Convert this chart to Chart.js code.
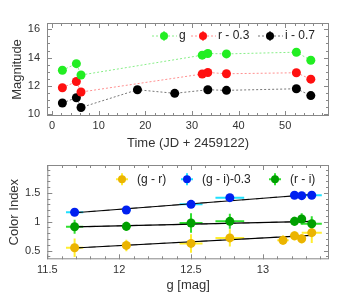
<!DOCTYPE html>
<html>
<head>
<meta charset="utf-8">
<script src="https://cdn.jsdelivr.net/npm/chart.js@4/dist/chart.umd.min.js"></script>
<style>
body { margin: 0; background: #fff; }
.panel { position: relative; width: 363px; height: 151px; }
</style>
</head>
<body>
<div class="panel"><canvas id="curvaChart"></canvas></div>
<div class="panel"><canvas id="colorChart"></canvas></div>
<script>
// datos curva de luz
const diasGR = [2.2, 5.2, 6.2, 32.2, 33.4, 37.4, 52.4, 55.5];
const magG = [13.11, 13.57, 12.77, 14.17, 14.29, 14.26, 14.38, 13.81];
const magR = [11.87, 12.31, 11.57, 12.84, 12.95, 12.86, 12.93, 12.48];
const diasI = [2.2, 5.2, 6.2, 18.3, 26.3, 33.4, 37.4, 52.4, 55.5];
const magI = [10.80, 11.17, 10.48, 11.73, 11.48, 11.73, 11.69, 11.80, 11.32];
const ticksTiempo = [0, 10, 20, 30, 40, 50];
const ticksMag = [10, 12, 14, 16];

// datos indices de color
const gGR = [11.69, 12.05, 12.50, 12.77, 13.14, 13.22, 13.27, 13.34];
const colGR = [0.55, 0.59, 0.625, 0.72, 0.68, 0.757, 0.705, 0.81];
const errGRx = [0.06, 0.03, 0.08, 0.10, 0.04, 0.03, 0.03, 0.07];
const errGRy = [0.16, 0.10, 0.16, 0.15, 0.08, 0.08, 0.08, 0.18];
const gGI = [11.69, 12.05, 12.50, 12.77, 13.22, 13.27, 13.34];
const colGI = [1.163, 1.203, 1.30, 1.416, 1.457, 1.45, 1.457];
const errGIx = [0.06, 0.03, 0.08, 0.10, 0.03, 0.03, 0.07];
const errGIy = [0.04, 0.03, 0.04, 0.06, 0.03, 0.03, 0.04];
const colRI = [0.913, 0.92, 0.977, 1.006, 1.006, 1.047, 0.965];
const errRIx = [0.06, 0.03, 0.08, 0.10, 0.03, 0.03, 0.07];
const errRIy = [0.12, 0.08, 0.17, 0.13, 0.08, 0.10, 0.13];
const ajusteX = [11.69, 13.34];
const ajusteGR = [0.545, 0.765];
const ajusteGI = [1.155, 1.47];
const ajusteRI = [0.91, 1.005];
const ticksG = [11.5, 12, 12.5, 13];
const ticksColor = [0.5, 1, 1.5];

const pares = (xs, ys) => xs.map((x, i) => ({ x: x, y: ys[i] }));

Chart.defaults.font.family = "'Liberation Sans', Arial, sans-serif";
Chart.defaults.color = '#333';

// marco gris con marcas hacia dentro
const marcoPlugin = {
    id: 'marco',
    beforeDatasetsDraw(chart, args, o) {
        const { ctx, chartArea: a, scales: { x, y } } = chart;
        ctx.save();
        ctx.strokeStyle = '#888';
        ctx.lineWidth = 1;
        ctx.strokeRect(a.left + 0.5, a.top + 0.5, a.right - a.left - 1, a.bottom - a.top - 1);
        const marcas = (sc, paso, mayor, horiz) => {
            const ini = Math.ceil(sc.min / paso - 1e-6);
            for (let k = ini; k * paso <= sc.max + 1e-9; k++) {
                const v = k * paso;
                const esMayor = Math.abs(v / mayor - Math.round(v / mayor)) < 1e-6;
                const l = esMayor ? 5 : 3;
                const p = Math.round(sc.getPixelForValue(v)) + 0.5;
                ctx.beginPath();
                if (horiz) {
                    ctx.moveTo(p, a.bottom); ctx.lineTo(p, a.bottom - l);
                    ctx.moveTo(p, a.top); ctx.lineTo(p, a.top + l);
                } else {
                    ctx.moveTo(a.left, p); ctx.lineTo(a.left + l, p);
                    ctx.moveTo(a.right, p); ctx.lineTo(a.right - l, p);
                }
                ctx.stroke();
            }
        };
        marcas(x, o.xMenor, o.xMayor, true);
        marcas(y, o.yMenor, o.yMayor, false);
        ctx.restore();
    }
};

// barras de error
const errorPlugin = {
    id: 'errores',
    beforeDatasetsDraw(chart) {
        const { ctx, scales: { x, y } } = chart;
        ctx.save();
        chart.data.datasets.forEach(ds => {
            if (!ds.errX) return;
            ctx.strokeStyle = ds.errColor;
            ctx.lineWidth = 2;
            ds.data.forEach((p, i) => {
                const px = x.getPixelForValue(p.x), py = y.getPixelForValue(p.y);
                ctx.beginPath();
                ctx.moveTo(x.getPixelForValue(p.x - ds.errX[i]), py);
                ctx.lineTo(x.getPixelForValue(p.x + ds.errX[i]), py);
                ctx.moveTo(px, y.getPixelForValue(p.y - ds.errY[i]));
                ctx.lineTo(px, y.getPixelForValue(p.y + ds.errY[i]));
                ctx.stroke();
            });
        });
        ctx.restore();
    }
};

// leyenda propia
const leyendaPlugin = {
    id: 'leyenda',
    afterDatasetsDraw(chart, args, o) {
        const { ctx } = chart;
        ctx.save();
        ctx.font = "12px 'Liberation Sans', Arial, sans-serif";
        ctx.textBaseline = 'middle';
        o.items.forEach(it => {
            const ds = chart.data.datasets[it.ds];
            const yc = o.y;
            if (o.linea) {
                ctx.strokeStyle = ds.borderColor;
                ctx.lineWidth = 1;
                ctx.setLineDash([2, 2]);
                ctx.beginPath();
                ctx.moveTo(it.x - 12, yc); ctx.lineTo(it.x + 13, yc);
                ctx.stroke();
                ctx.setLineDash([]);
                ctx.strokeStyle = ds.pointBackgroundColor;
                ctx.beginPath();
                ctx.moveTo(it.x, yc - 5); ctx.lineTo(it.x, yc + 5);
                ctx.stroke();
            } else {
                ctx.strokeStyle = ds.errColor;
                ctx.lineWidth = 2;
                ctx.beginPath();
                ctx.moveTo(it.x - 6, yc); ctx.lineTo(it.x + 6, yc);
                ctx.moveTo(it.x, yc - 6); ctx.lineTo(it.x, yc + 6);
                ctx.stroke();
            }
            ctx.fillStyle = ds.pointBackgroundColor;
            ctx.beginPath();
            ctx.arc(it.x, yc, 4, 0, Math.PI * 2);
            ctx.fill();
            ctx.fillStyle = '#222';
            ctx.fillText(ds.label, it.x + 15, yc);
        });
        ctx.restore();
    }
};

const escala = (min, max, ticks, titulo, pad, ancho, tituloPad) => ({
    type: 'linear', min: min, max: max,
    grid: { display: false, drawTicks: false },
    border: { display: false },
    afterBuildTicks: s => { s.ticks = ticks.map(v => ({ value: v })); },
    afterFit: s => { if (s.isHorizontal()) s.height = ancho; else s.width = ancho; },
    ticks: { font: { size: 11 }, color: '#333', padding: pad, callback: v => String(v), maxRotation: 0 },
    title: { display: true, text: titulo, font: { size: 13 }, color: '#333', padding: tituloPad }
});

const serieCurva = (label, xs, ys, color, linea) => ({
    label: label,
    data: pares(xs, ys),
    showLine: true,
    borderColor: linea,
    borderWidth: 1,
    borderDash: [2, 2],
    pointRadius: 4.5,
    pointBackgroundColor: color,
    pointBorderWidth: 0
});

new Chart(document.getElementById('curvaChart'), {
    type: 'scatter',
    data: {
        datasets: [
            serieCurva('g', diasGR, magG, '#22ee22', '#88ee88'),
            serieCurva('r - 0.3', diasGR, magR, '#ff1010', '#ff9090'),
            serieCurva('i - 0.7', diasI, magI, '#000000', '#777777')
        ]
    },
    options: {
        responsive: true, maintainAspectRatio: false, animation: false,
        layout: { padding: { top: 23, right: 34, left: 0, bottom: 0 } },
        plugins: {
            legend: { display: false }, tooltip: { enabled: false },
            marco: { xMenor: 2, xMayor: 10, yMenor: 0.5, yMayor: 2 },
            leyenda: { y: 36, linea: true, items: [{ ds: 0, x: 164 }, { ds: 1, x: 203 }, { ds: 2, x: 270 }] }
        },
        scales: {
            x: escala(-1.1, 59.4, ticksTiempo, 'Time (JD + 2459122)', 3, 35, { top: 0, bottom: 0 }),
            y: escala(9.88, 16.44, ticksMag, 'Magnitude', 7, 47, { top: 10, bottom: 0 })
        }
    },
    plugins: [marcoPlugin, leyendaPlugin]
});

const serieColor = (label, xs, ys, color, colErr, ex, ey) => ({
    label: label,
    data: pares(xs, ys),
    showLine: false,
    pointRadius: 4.5,
    pointBackgroundColor: color,
    pointBorderWidth: 0,
    errX: ex, errY: ey, errColor: colErr
});

const ajuste = (ys, color, dash) => ({
    label: '',
    data: pares(ajusteX, ys),
    showLine: true,
    borderColor: color,
    borderWidth: 1.2,
    borderDash: dash,
    pointRadius: 0
});

new Chart(document.getElementById('colorChart'), {
    type: 'scatter',
    data: {
        datasets: [
            serieColor('(g - r)', gGR, colGR, '#ebb400', '#ffee30', errGRx, errGRy),
            serieColor('(g - i)-0.3', gGI, colGI, '#0020f0', '#20e0ff', errGIx, errGIy),
            serieColor('(r - i)', gGI, colRI, '#00a000', '#30e030', errRIx, errRIy),
            ajuste(ajusteGR, '#000', []), ajuste(ajusteGR, '#888', [7, 7]),
            ajuste(ajusteGI, '#000', []), ajuste(ajusteGI, '#888', [7, 7]),
            ajuste(ajusteRI, '#000', []), ajuste(ajusteRI, '#888', [7, 7])
        ]
    },
    options: {
        responsive: true, maintainAspectRatio: false, animation: false,
        layout: { padding: { top: 14, right: 34, left: 0, bottom: 0 } },
        plugins: {
            legend: { display: false }, tooltip: { enabled: false },
            marco: { xMenor: 0.1, xMayor: 0.5, yMenor: 0.1, yMayor: 0.5 },
            leyenda: { y: 28.3, linea: false, items: [{ ds: 0, x: 122 }, { ds: 1, x: 187 }, { ds: 2, x: 275 }] }
        },
        scales: {
            x: escala(11.5, 13.46, ticksG, 'g [mag]', 4, 42.7, { top: 0, bottom: 9 }),
            y: escala(0.35, 1.98, ticksColor, 'Color Index', 7, 47.3, { top: 7, bottom: 0 })
        }
    },
    plugins: [marcoPlugin, errorPlugin, leyendaPlugin]
});
</script>
</body>
</html>
